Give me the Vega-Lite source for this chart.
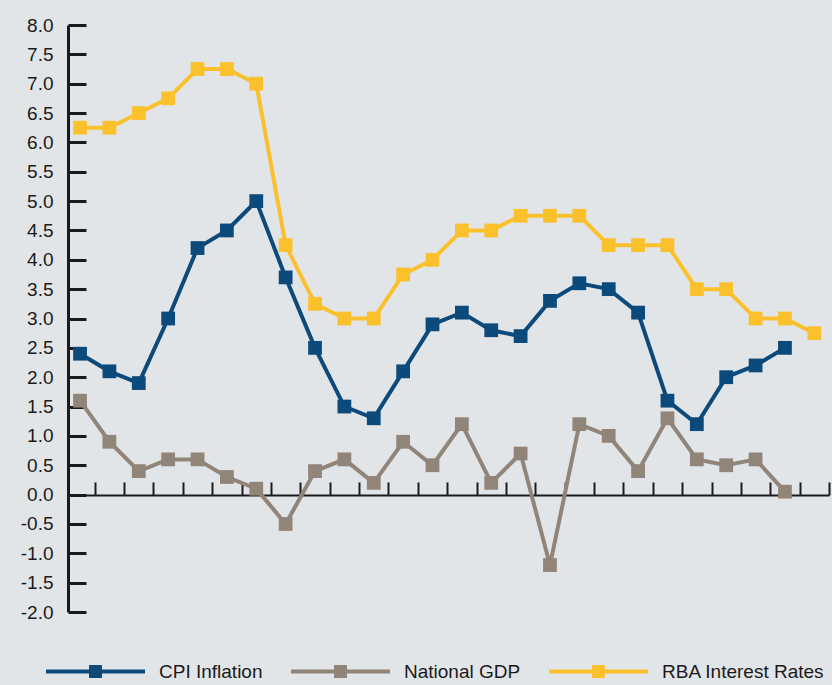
{
  "$schema": "https://vega.github.io/schema/vega-lite/v6.json",
  "width": 761,
  "height": 587,
  "autosize": {"type": "none"},
  "padding": {"left": 68, "top": 25, "right": 3, "bottom": 73},
  "background": "#e2e5e8",
  "config": {"view": {"stroke": null}, "font": "Liberation Sans"},
  "data": {
    "values": [
      {"t": 0, "series": "CPI Inflation", "value": 2.4},
      {"t": 1, "series": "CPI Inflation", "value": 2.1},
      {"t": 2, "series": "CPI Inflation", "value": 1.9},
      {"t": 3, "series": "CPI Inflation", "value": 3.0},
      {"t": 4, "series": "CPI Inflation", "value": 4.2},
      {"t": 5, "series": "CPI Inflation", "value": 4.5},
      {"t": 6, "series": "CPI Inflation", "value": 5.0},
      {"t": 7, "series": "CPI Inflation", "value": 3.7},
      {"t": 8, "series": "CPI Inflation", "value": 2.5},
      {"t": 9, "series": "CPI Inflation", "value": 1.5},
      {"t": 10, "series": "CPI Inflation", "value": 1.3},
      {"t": 11, "series": "CPI Inflation", "value": 2.1},
      {"t": 12, "series": "CPI Inflation", "value": 2.9},
      {"t": 13, "series": "CPI Inflation", "value": 3.1},
      {"t": 14, "series": "CPI Inflation", "value": 2.8},
      {"t": 15, "series": "CPI Inflation", "value": 2.7},
      {"t": 16, "series": "CPI Inflation", "value": 3.3},
      {"t": 17, "series": "CPI Inflation", "value": 3.6},
      {"t": 18, "series": "CPI Inflation", "value": 3.5},
      {"t": 19, "series": "CPI Inflation", "value": 3.1},
      {"t": 20, "series": "CPI Inflation", "value": 1.6},
      {"t": 21, "series": "CPI Inflation", "value": 1.2},
      {"t": 22, "series": "CPI Inflation", "value": 2.0},
      {"t": 23, "series": "CPI Inflation", "value": 2.2},
      {"t": 24, "series": "CPI Inflation", "value": 2.5},
      {"t": 0, "series": "National GDP", "value": 1.6},
      {"t": 1, "series": "National GDP", "value": 0.9},
      {"t": 2, "series": "National GDP", "value": 0.4},
      {"t": 3, "series": "National GDP", "value": 0.6},
      {"t": 4, "series": "National GDP", "value": 0.6},
      {"t": 5, "series": "National GDP", "value": 0.3},
      {"t": 6, "series": "National GDP", "value": 0.1},
      {"t": 7, "series": "National GDP", "value": -0.5},
      {"t": 8, "series": "National GDP", "value": 0.4},
      {"t": 9, "series": "National GDP", "value": 0.6},
      {"t": 10, "series": "National GDP", "value": 0.2},
      {"t": 11, "series": "National GDP", "value": 0.9},
      {"t": 12, "series": "National GDP", "value": 0.5},
      {"t": 13, "series": "National GDP", "value": 1.2},
      {"t": 14, "series": "National GDP", "value": 0.2},
      {"t": 15, "series": "National GDP", "value": 0.7},
      {"t": 16, "series": "National GDP", "value": -1.2},
      {"t": 17, "series": "National GDP", "value": 1.2},
      {"t": 18, "series": "National GDP", "value": 1.0},
      {"t": 19, "series": "National GDP", "value": 0.4},
      {"t": 20, "series": "National GDP", "value": 1.3},
      {"t": 21, "series": "National GDP", "value": 0.6},
      {"t": 22, "series": "National GDP", "value": 0.5},
      {"t": 23, "series": "National GDP", "value": 0.6},
      {"t": 24, "series": "National GDP", "value": 0.05},
      {"t": 0, "series": "RBA Interest Rates", "value": 6.25},
      {"t": 1, "series": "RBA Interest Rates", "value": 6.25},
      {"t": 2, "series": "RBA Interest Rates", "value": 6.5},
      {"t": 3, "series": "RBA Interest Rates", "value": 6.75},
      {"t": 4, "series": "RBA Interest Rates", "value": 7.25},
      {"t": 5, "series": "RBA Interest Rates", "value": 7.25},
      {"t": 6, "series": "RBA Interest Rates", "value": 7.0},
      {"t": 7, "series": "RBA Interest Rates", "value": 4.25},
      {"t": 8, "series": "RBA Interest Rates", "value": 3.25},
      {"t": 9, "series": "RBA Interest Rates", "value": 3.0},
      {"t": 10, "series": "RBA Interest Rates", "value": 3.0},
      {"t": 11, "series": "RBA Interest Rates", "value": 3.75},
      {"t": 12, "series": "RBA Interest Rates", "value": 4.0},
      {"t": 13, "series": "RBA Interest Rates", "value": 4.5},
      {"t": 14, "series": "RBA Interest Rates", "value": 4.5},
      {"t": 15, "series": "RBA Interest Rates", "value": 4.75},
      {"t": 16, "series": "RBA Interest Rates", "value": 4.75},
      {"t": 17, "series": "RBA Interest Rates", "value": 4.75},
      {"t": 18, "series": "RBA Interest Rates", "value": 4.25},
      {"t": 19, "series": "RBA Interest Rates", "value": 4.25},
      {"t": 20, "series": "RBA Interest Rates", "value": 4.25},
      {"t": 21, "series": "RBA Interest Rates", "value": 3.5},
      {"t": 22, "series": "RBA Interest Rates", "value": 3.5},
      {"t": 23, "series": "RBA Interest Rates", "value": 3.0},
      {"t": 24, "series": "RBA Interest Rates", "value": 3.0},
      {"t": 25, "series": "RBA Interest Rates", "value": 2.75}
    ]
  },
  "mark": {
    "type": "line",
    "strokeWidth": 4,
    "point": {"shape": "square", "size": 190, "filled": true, "opacity": 1}
  },
  "encoding": {
    "x": {
      "field": "t",
      "type": "quantitative",
      "scale": {"domain": [-0.41, 25.5], "nice": false, "zero": false},
      "axis": {
        "title": null,
        "labels": false,
        "grid": false,
        "values": [0.5, 1.5, 2.5, 3.5, 4.5, 5.5, 6.5, 7.5, 8.5, 9.5, 10.5, 11.5, 12.5, 13.5, 14.5, 15.5, 16.5, 17.5, 18.5, 19.5, 20.5, 21.5, 22.5, 23.5, 24.5, 25.5],
        "offset": -117,
        "tickSize": -13,
        "tickWidth": 2,
        "tickColor": "#1a1a1a",
        "domainColor": "#1a1a1a",
        "domainWidth": 2
      }
    },
    "y": {
      "field": "value",
      "type": "quantitative",
      "scale": {"domain": [-2, 8], "nice": false, "zero": false},
      "axis": {
        "title": null,
        "grid": false,
        "values": [-2, -1.5, -1, -0.5, 0, 0.5, 1, 1.5, 2, 2.5, 3, 3.5, 4, 4.5, 5, 5.5, 6, 6.5, 7, 7.5, 8],
        "labelExpr": "replace(format(datum.value, '.1f'), '\u2212', '-')",
        "labelFont": "Liberation Sans",
        "labelFontSize": 19,
        "labelColor": "#1a1a1a",
        "labelPadding": 33,
        "tickSize": -18,
        "tickWidth": 3,
        "tickColor": "#1a1a1a",
        "domainColor": "#1a1a1a",
        "domainWidth": 3
      }
    },
    "color": {
      "field": "series",
      "type": "nominal",
      "scale": {
        "domain": ["CPI Inflation", "National GDP", "RBA Interest Rates"],
        "range": ["#0d4a7c", "#918479", "#fbc12d"]
      },
      "legend": {
        "title": null,
        "orient": "none",
        "direction": "horizontal",
        "legendX": -24,
        "legendY": 595,
        "padding": 0,
        "symbolType": "M-1,0H1M-0.09,-0.09H0.09V0.09H-0.09Z",
        "symbolSize": 9801,
        "symbolStrokeWidth": 4,
        "labelFont": "Liberation Sans",
        "labelFontSize": 19,
        "labelColor": "#1a1a1a",
        "labelOffset": 12,
        "labelLimit": 400,
        "columnPadding": 20,
        "encode": {
          "symbols": {
            "update": {
              "fill": {"scale": "color", "field": "value"},
              "stroke": {"scale": "color", "field": "value"},
              "opacity": {"value": 1}
            }
          }
        }
      }
    }
  }
}
